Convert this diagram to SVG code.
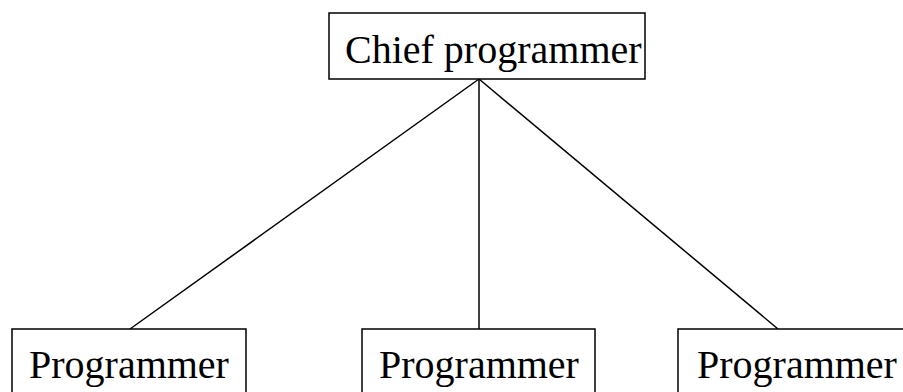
<svg xmlns="http://www.w3.org/2000/svg" width="903" height="392" viewBox="0 0 903 392">
<style>
rect{fill:#fff;stroke:#000;stroke-width:1.5}
text{font-family:"Liberation Serif","Times New Roman",serif;font-size:40px;fill:#000}
.c line{stroke:#000;stroke-width:1.5}
</style>
<rect x="0" y="0" width="903" height="392" style="stroke:none"/>
<g class="c" id="connectors">
<line x1="479" y1="79" x2="130" y2="329"/>
<line x1="479" y1="79" x2="479" y2="329"/>
<line x1="479" y1="79" x2="778" y2="329"/>
</g>
<g id="chief">
<rect x="329" y="13" width="316" height="66"/>
<text x="345" y="63">Chief programmer</text>
</g>
<g id="p1">
<rect x="12" y="329" width="234" height="80"/>
<text x="29" y="378">Programmer</text>
</g>
<g id="p2">
<rect x="362" y="329" width="233" height="80"/>
<text x="379" y="378">Programmer</text>
</g>
<g id="p3">
<rect x="678" y="329" width="234" height="80"/>
<text x="697" y="378">Programmer</text>
</g>
</svg>
